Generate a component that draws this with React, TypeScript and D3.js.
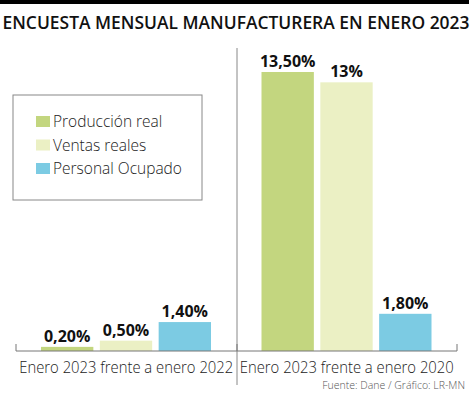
import React from 'react';
import * as d3 from 'd3';

const periods = ['Enero 2023 frente a enero 2022', 'Enero 2023 frente a enero 2020'];
const series = ['Producción real', 'Ventas reales', 'Personal Ocupado'];
const produccion = [0.2, 13.5];
const ventas = [0.5, 13];
const personal = [1.4, 1.8];
const valueLabels = [
  ['0,20%', '13,50%'],
  ['0,50%', '13%'],
  ['1,40%', '1,80%'],
];
const colors = ['#c3d67f', '#ebf0c4', '#7ccbe3'];

const W = 474;
const H = 395;
const font = '"Open Sans", "Noto Sans", sans-serif';

const App = () => {
  const values = [produccion, ventas, personal];

  const x0 = d3.scaleBand().domain(periods).range([16, 457]).paddingInner(0).paddingOuter(0);
  const x1 = d3.scaleBand().domain(series).range([25, 195]).paddingInner(0.11).paddingOuter(0);
  const y = d3.scaleLinear().domain([0, 13.5]).range([351, 72]);

  return (
    <svg width={W} height={H} style={{ position: 'absolute', left: 0, top: 0, background: '#fff' }}>
      <rect x={0} y={0} width={469} height={4} fill="#000" />
      <text x={236} y={29} textAnchor="middle" fontFamily={font} fontWeight={600} fontSize={17.5}
        textLength={467} lengthAdjust="spacingAndGlyphs" fill="#111">
        ENCUESTA MENSUAL MANUFACTURERA EN ENERO 2023
      </text>

      <line x1={237} x2={237} y1={48} y2={385} stroke="#888" strokeWidth={1} />

      {periods.map((p, i) => (
        <g key={p} transform={`translate(${x0(p)},0)`}>
          {series.map((s, j) => {
            const v = values[j][i];
            const bx = x1(s)!;
            return (
              <g key={s}>
                <rect x={bx} y={y(v)} width={x1.bandwidth()} height={y(0) - y(v)} fill={colors[j]} />
                <text x={bx + x1.bandwidth() / 2} y={y(v) - 5} textAnchor="middle" fontFamily={font}
                  fontWeight={700} fontSize={16} fill="#111">
                  {valueLabels[j][i]}
                </text>
              </g>
            );
          })}
          <text x={x0.bandwidth() / 2} y={373} textAnchor="middle" fontFamily={font}
            fontWeight={300} fontSize={16} textLength={214} lengthAdjust="spacingAndGlyphs" fill="#222">
            {p}
          </text>
        </g>
      ))}

      <line x1={16} x2={457} y1={351} y2={351} stroke="#777" strokeWidth={1} />
      {[16, 237, 457].map((t) => (
        <line key={t} x1={t} x2={t} y1={344} y2={351} stroke="#777" strokeWidth={1} />
      ))}

      <text x={465} y={389} textAnchor="end" fontFamily={font} fontWeight={300} fontSize={10.5} fill="#555">
        Fuente: Dane / Gráfico: LR-MN
      </text>

      <rect x={13} y={95} width={189} height={105} fill="#fff" stroke="#888" strokeWidth={1} />
      {series.map((s, j) => (
        <g key={s} transform={`translate(36,${116 + j * 23.5})`}>
          <rect x={0} y={0} width={14} height={11} fill={colors[j]} />
          <text x={17} y={11} fontFamily={font} fontWeight={300} fontSize={15.5} fill="#222">
            {s}
          </text>
        </g>
      ))}
    </svg>
  );
};

export default App;
